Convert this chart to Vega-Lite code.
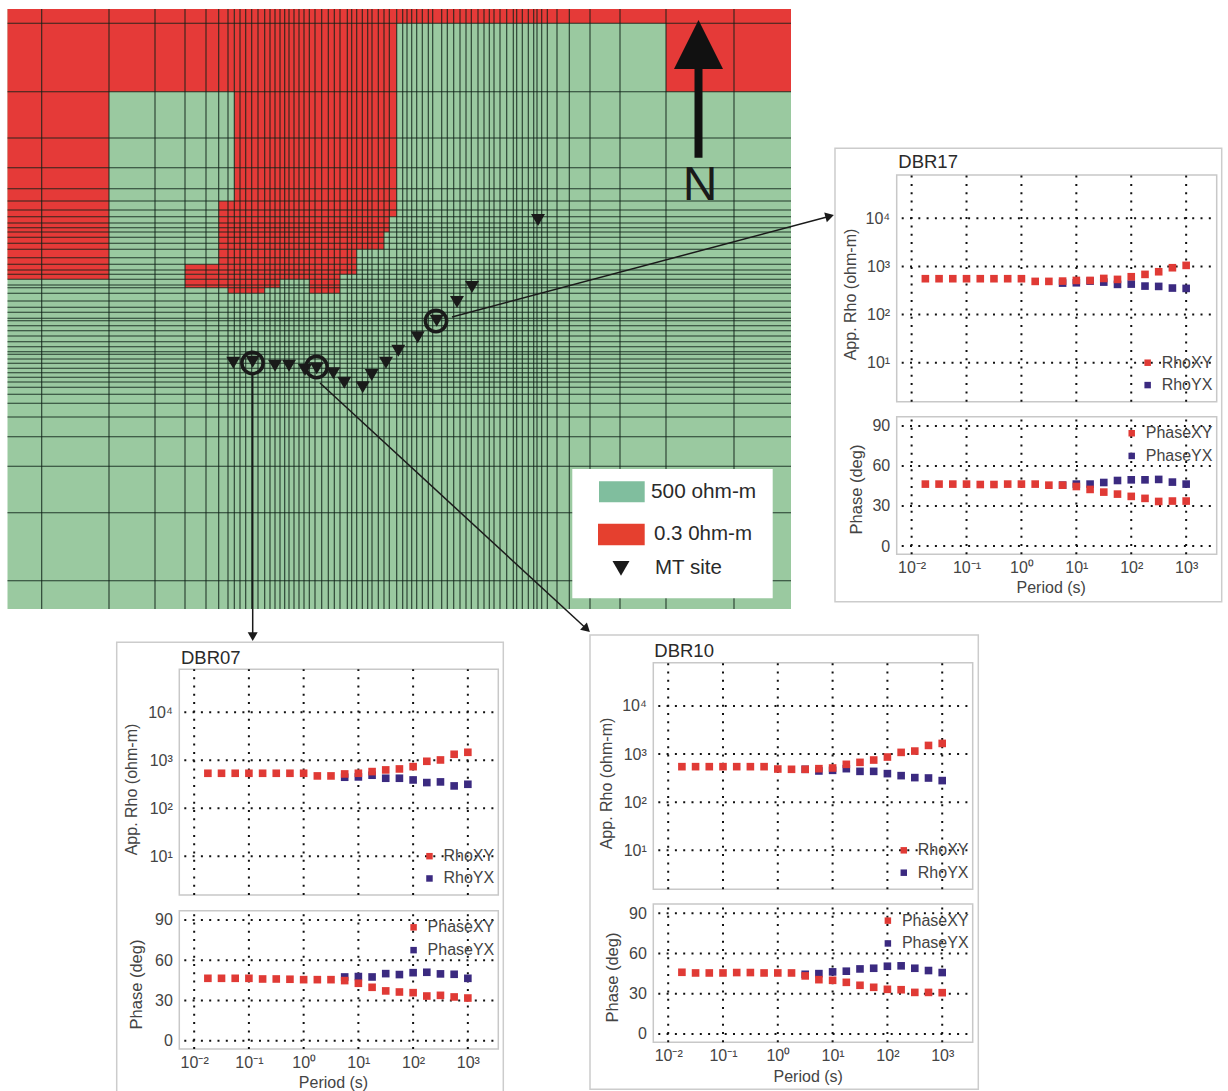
{"$schema":"https://vega.github.io/schema/vega-lite/v6.json","width":1228,"height":1091,"autosize":{"type":"none"},"padding":0,"background":"white",
"config":{"view":{"stroke":null},"font":"Liberation Sans","axis":{"domain":false,"ticks":false,"grid":false,"labelFont":"Liberation Sans","labelFontSize":16,"labelColor":"#444444","labelPadding":7,"labelOverlap":false,"labelFlush":false,"titleFont":"Liberation Sans","titleFontSize":16,"titleFontWeight":"normal","titleColor":"#444444","titleBaseline":"middle"}},
"datasets":{
"cells":[{"x":-0.5,"x2":101,"y":0,"y2":270.3},{"x":101,"x2":226.3,"y":0,"y2":82.7},{"x":226.3,"x2":388.7,"y":0,"y2":192},{"x":388.7,"x2":783,"y":0,"y2":14.3},{"x":658,"x2":783,"y":0,"y2":82.7},{"x":210.7,"x2":388.7,"y":192,"y2":207.7},{"x":210.7,"x2":381.3,"y":207.7,"y2":223},{"x":210.7,"x2":376,"y":223,"y2":240.3},{"x":210.7,"x2":348.7,"y":240.3,"y2":255.3},{"x":177,"x2":348.7,"y":255.3,"y2":265.3},{"x":177,"x2":332,"y":265.3,"y2":270.3},{"x":177,"x2":272,"y":270.3,"y2":278.7},{"x":301.3,"x2":332,"y":270.3,"y2":284.3},{"x":220,"x2":256.7,"y":278.7,"y2":284.3}],
"meshV":[{"x":33.7,"y":0,"y2":600},{"x":101,"y":0,"y2":600},{"x":147,"y":0,"y2":600},{"x":177,"y":0,"y2":600},{"x":198,"y":0,"y2":600},{"x":210.7,"y":0,"y2":600},{"x":220,"y":0,"y2":600},{"x":226.3,"y":0,"y2":600},{"x":232,"y":0,"y2":600},{"x":237.7,"y":0,"y2":600},{"x":243.7,"y":0,"y2":600},{"x":250,"y":0,"y2":600},{"x":256.7,"y":0,"y2":600},{"x":262,"y":0,"y2":600},{"x":267,"y":0,"y2":600},{"x":272,"y":0,"y2":600},{"x":276.7,"y":0,"y2":600},{"x":281,"y":0,"y2":600},{"x":286,"y":0,"y2":600},{"x":291,"y":0,"y2":600},{"x":296,"y":0,"y2":600},{"x":301.3,"y":0,"y2":600},{"x":307,"y":0,"y2":600},{"x":313.7,"y":0,"y2":600},{"x":320.3,"y":0,"y2":600},{"x":326.3,"y":0,"y2":600},{"x":332,"y":0,"y2":600},{"x":339.3,"y":0,"y2":600},{"x":343.7,"y":0,"y2":600},{"x":348.7,"y":0,"y2":600},{"x":354.3,"y":0,"y2":600},{"x":359.7,"y":0,"y2":600},{"x":364,"y":0,"y2":600},{"x":370.3,"y":0,"y2":600},{"x":376,"y":0,"y2":600},{"x":381.3,"y":0,"y2":600},{"x":388.7,"y":0,"y2":600},{"x":394.7,"y":0,"y2":600},{"x":399,"y":0,"y2":600},{"x":403.7,"y":0,"y2":600},{"x":408.7,"y":0,"y2":600},{"x":414.3,"y":0,"y2":600},{"x":420.3,"y":0,"y2":600},{"x":424.7,"y":0,"y2":600},{"x":433.7,"y":0,"y2":600},{"x":439.3,"y":0,"y2":600},{"x":445.7,"y":0,"y2":600},{"x":452,"y":0,"y2":600},{"x":458,"y":0,"y2":600},{"x":463.3,"y":0,"y2":600},{"x":470,"y":0,"y2":600},{"x":476,"y":0,"y2":600},{"x":481.3,"y":0,"y2":600},{"x":486,"y":0,"y2":600},{"x":492,"y":0,"y2":600},{"x":498.7,"y":0,"y2":600},{"x":505.3,"y":0,"y2":600},{"x":508.7,"y":0,"y2":600},{"x":514.3,"y":0,"y2":600},{"x":520.3,"y":0,"y2":600},{"x":525.7,"y":0,"y2":600},{"x":529,"y":0,"y2":600},{"x":533.7,"y":0,"y2":600},{"x":539.3,"y":0,"y2":600},{"x":549,"y":0,"y2":600},{"x":561.3,"y":0,"y2":600},{"x":582,"y":0,"y2":600},{"x":612,"y":0,"y2":600},{"x":658,"y":0,"y2":600},{"x":726,"y":0,"y2":600}],
"meshH":[{"x":-0.5,"x2":783,"y":14.3},{"x":-0.5,"x2":783,"y":82.7},{"x":-0.5,"x2":783,"y":129},{"x":-0.5,"x2":783,"y":158.7},{"x":-0.5,"x2":783,"y":179.7},{"x":-0.5,"x2":783,"y":192},{"x":-0.5,"x2":783,"y":201},{"x":-0.5,"x2":783,"y":207.7},{"x":-0.5,"x2":783,"y":214},{"x":-0.5,"x2":783,"y":218.7},{"x":-0.5,"x2":783,"y":223},{"x":-0.5,"x2":783,"y":228.3},{"x":-0.5,"x2":783,"y":234.3},{"x":-0.5,"x2":783,"y":240.3},{"x":-0.5,"x2":783,"y":248.7},{"x":-0.5,"x2":783,"y":255.3},{"x":-0.5,"x2":783,"y":261},{"x":-0.5,"x2":783,"y":265.3},{"x":-0.5,"x2":783,"y":270.3},{"x":-0.5,"x2":783,"y":276},{"x":-0.5,"x2":783,"y":278.7},{"x":-0.5,"x2":783,"y":284.3},{"x":-0.5,"x2":783,"y":292},{"x":-0.5,"x2":783,"y":298.3},{"x":-0.5,"x2":783,"y":303.3},{"x":-0.5,"x2":783,"y":309.3},{"x":-0.5,"x2":783,"y":311.7},{"x":-0.5,"x2":783,"y":316.7},{"x":-0.5,"x2":783,"y":321.7},{"x":-0.5,"x2":783,"y":327},{"x":-0.5,"x2":783,"y":332.7},{"x":-0.5,"x2":783,"y":337.7},{"x":-0.5,"x2":783,"y":342.7},{"x":-0.5,"x2":783,"y":345.3},{"x":-0.5,"x2":783,"y":350},{"x":-0.5,"x2":783,"y":354.3},{"x":-0.5,"x2":783,"y":359.3},{"x":-0.5,"x2":783,"y":363.7},{"x":-0.5,"x2":783,"y":368.3},{"x":-0.5,"x2":783,"y":373},{"x":-0.5,"x2":783,"y":378.3},{"x":-0.5,"x2":783,"y":385.3},{"x":-0.5,"x2":783,"y":394.3},{"x":-0.5,"x2":783,"y":408},{"x":-0.5,"x2":783,"y":427.7},{"x":-0.5,"x2":783,"y":457.3},{"x":-0.5,"x2":783,"y":503.7},{"x":-0.5,"x2":783,"y":571.7}],
"sites":[{"x":225.3,"y":353.7},{"x":244.7,"y":352.7},{"x":267,"y":356.7},{"x":281,"y":356.7},{"x":297,"y":361},{"x":308.7,"y":359.3},{"x":325.3,"y":364.3},{"x":336.3,"y":373.7},{"x":354.7,"y":378.3},{"x":363.7,"y":366},{"x":378,"y":353.7},{"x":390.3,"y":341.7},{"x":409.7,"y":328.3},{"x":428.7,"y":311.7},{"x":449,"y":293},{"x":464,"y":278},{"x":530,"y":211}],
"picked":[{"site":"DBR07","x":244.5,"y":354},{"site":"DBR10","x":308.5,"y":358},{"site":"DBR17","x":428,"y":312}],
"arrows":[{"x":244.7,"y":366,"x2":244.7,"y2":627.7},{"x":312,"y":374,"x2":578.7,"y2":620},{"x":444,"y":308,"x2":821.7,"y2":207.2}],
"frames":[{"site":"DBR17","x":827,"x2":1213.7,"y":139.3,"y2":592.7},{"site":"DBR07","x":108.7,"x2":495.3,"y":633.3,"y2":1086},{"site":"DBR10","x":582,"x2":970.3,"y":626,"y2":1080.3}],
"titles":[{"label":"DBR17","x":890.3,"y":153.3},{"label":"DBR07","x":173,"y":648.7},{"label":"DBR10","x":646.3,"y":641.7}],
"rhoBox":[{"period":0.00535,"period2":3600,"rho":1.55,"rho2":79000}],
"rhoV":[{"period":0.01,"rho":1.55,"rho2":79000},{"period":0.1,"rho":1.55,"rho2":79000},{"period":1,"rho":1.55,"rho2":79000},{"period":10,"rho":1.55,"rho2":79000},{"period":100,"rho":1.55,"rho2":79000},{"period":1000,"rho":1.55,"rho2":79000}],
"rhoH":[{"period":0.0066,"period2":3200,"rho":10},{"period":0.0066,"period2":3200,"rho":100},{"period":0.0066,"period2":3200,"rho":1000},{"period":0.0066,"period2":3200,"rho":10000}],
"rhoLegend":[{"period":199,"rho":10,"series":"XY","label":"RhoXY"},{"period":199,"rho":3.43,"series":"YX","label":"RhoYX"}],
"phaseBox":[{"period":0.00535,"period2":3600,"phase":-6.2,"phase2":96.9}],
"phaseV":[{"period":0.01,"phase":-6.2,"phase2":96.9},{"period":0.1,"phase":-6.2,"phase2":96.9},{"period":1,"phase":-6.2,"phase2":96.9},{"period":10,"phase":-6.2,"phase2":96.9},{"period":100,"phase":-6.2,"phase2":96.9},{"period":1000,"phase":-6.2,"phase2":96.9}],
"phaseH":[{"period":0.0066,"period2":3200,"phase":0},{"period":0.0066,"period2":3200,"phase":30},{"period":0.0066,"period2":3200,"phase":60},{"period":0.0066,"period2":3200,"phase":90}],
"phaseLegend":[{"period":102,"phase":84.5,"series":"XY","label":"PhaseXY"},{"period":102,"phase":67.5,"series":"YX","label":"PhaseYX"}],
"mt":[
{"site":"DBR17","series":"YX","period":5.62,"rho":450,"phase":45.6},{"site":"DBR17","series":"YX","period":10,"rho":457,"phase":46.4},{"site":"DBR17","series":"YX","period":17.8,"rho":495,"phase":46.4},{"site":"DBR17","series":"YX","period":31.6,"rho":472,"phase":47.6},{"site":"DBR17","series":"YX","period":56.2,"rho":423,"phase":49.1},{"site":"DBR17","series":"YX","period":100,"rho":429,"phase":49.6},{"site":"DBR17","series":"YX","period":178,"rho":390,"phase":49.6},{"site":"DBR17","series":"YX","period":316,"rho":384,"phase":49.9},{"site":"DBR17","series":"YX","period":562,"rho":355,"phase":47.9},{"site":"DBR17","series":"YX","period":1000,"rho":349,"phase":46.4},
{"site":"DBR07","series":"YX","period":5.62,"rho":443,"phase":47.5},{"site":"DBR07","series":"YX","period":10,"rho":450,"phase":47.8},{"site":"DBR07","series":"YX","period":17.8,"rho":488,"phase":47.5},{"site":"DBR07","series":"YX","period":31.6,"rho":422,"phase":50},{"site":"DBR07","series":"YX","period":56.2,"rho":422,"phase":49.3},{"site":"DBR07","series":"YX","period":100,"rho":389,"phase":50.7},{"site":"DBR07","series":"YX","period":178,"rho":343,"phase":51},{"site":"DBR07","series":"YX","period":316,"rho":354,"phase":49.8},{"site":"DBR07","series":"YX","period":562,"rho":292,"phase":49.5},{"site":"DBR07","series":"YX","period":1000,"rho":316,"phase":46.5},
{"site":"DBR10","series":"YX","period":3.16,"rho":482,"phase":44.5},{"site":"DBR10","series":"YX","period":5.62,"rho":445,"phase":45},{"site":"DBR10","series":"YX","period":10,"rho":459,"phase":46.3},{"site":"DBR10","series":"YX","period":17.8,"rho":497,"phase":46.8},{"site":"DBR10","series":"YX","period":31.6,"rho":437,"phase":48.5},{"site":"DBR10","series":"YX","period":56.2,"rho":437,"phase":49},{"site":"DBR10","series":"YX","period":100,"rho":392,"phase":50.5},{"site":"DBR10","series":"YX","period":178,"rho":356,"phase":50.8},{"site":"DBR10","series":"YX","period":316,"rho":324,"phase":49},{"site":"DBR10","series":"YX","period":562,"rho":318,"phase":47.3},{"site":"DBR10","series":"YX","period":1000,"rho":281,"phase":45.8},
{"site":"DBR17","series":"XY","period":0.0178,"rho":555,"phase":46.4},{"site":"DBR17","series":"XY","period":0.0316,"rho":555,"phase":46.4},{"site":"DBR17","series":"XY","period":0.0562,"rho":555,"phase":46.4},{"site":"DBR17","series":"XY","period":0.1,"rho":555,"phase":46.4},{"site":"DBR17","series":"XY","period":0.178,"rho":555,"phase":46.1},{"site":"DBR17","series":"XY","period":0.316,"rho":555,"phase":46.1},{"site":"DBR17","series":"XY","period":0.562,"rho":555,"phase":46.4},{"site":"DBR17","series":"XY","period":1,"rho":555,"phase":46.4},{"site":"DBR17","series":"XY","period":1.78,"rho":488,"phase":46.4},{"site":"DBR17","series":"XY","period":3.16,"rho":488,"phase":45.6},{"site":"DBR17","series":"XY","period":5.62,"rho":495,"phase":45.6},{"site":"DBR17","series":"XY","period":10,"rho":511,"phase":44.6},{"site":"DBR17","series":"XY","period":17.8,"rho":511,"phase":42.4},{"site":"DBR17","series":"XY","period":31.6,"rho":562,"phase":40.4},{"site":"DBR17","series":"XY","period":56.2,"rho":537,"phase":38.9},{"site":"DBR17","series":"XY","period":100,"rho":610,"phase":37.2},{"site":"DBR17","series":"XY","period":178,"rho":682,"phase":35.7},{"site":"DBR17","series":"XY","period":316,"rho":774,"phase":33.4},{"site":"DBR17","series":"XY","period":562,"rho":938,"phase":33.7},{"site":"DBR17","series":"XY","period":1000,"rho":1049,"phase":33.7},
{"site":"DBR07","series":"XY","period":0.0178,"rho":536,"phase":46.5},{"site":"DBR07","series":"XY","period":0.0316,"rho":536,"phase":46.5},{"site":"DBR07","series":"XY","period":0.0562,"rho":536,"phase":46.5},{"site":"DBR07","series":"XY","period":0.1,"rho":536,"phase":46.5},{"site":"DBR07","series":"XY","period":0.178,"rho":536,"phase":46},{"site":"DBR07","series":"XY","period":0.316,"rho":536,"phase":46},{"site":"DBR07","series":"XY","period":0.562,"rho":536,"phase":45.8},{"site":"DBR07","series":"XY","period":1,"rho":536,"phase":45.5},{"site":"DBR07","series":"XY","period":1.78,"rho":472,"phase":45.5},{"site":"DBR07","series":"XY","period":3.16,"rho":472,"phase":45.5},{"site":"DBR07","series":"XY","period":5.62,"rho":519,"phase":44.8},{"site":"DBR07","series":"XY","period":10,"rho":536,"phase":42.8},{"site":"DBR07","series":"XY","period":17.8,"rho":581,"phase":39.8},{"site":"DBR07","series":"XY","period":31.6,"rho":630,"phase":37.1},{"site":"DBR07","series":"XY","period":56.2,"rho":660,"phase":36.3},{"site":"DBR07","series":"XY","period":100,"rho":737,"phase":35.8},{"site":"DBR07","series":"XY","period":178,"rho":953,"phase":33.3},{"site":"DBR07","series":"XY","period":316,"rho":1016,"phase":33.8},{"site":"DBR07","series":"XY","period":562,"rho":1334,"phase":32.6},{"site":"DBR07","series":"XY","period":1000,"rho":1468,"phase":31.8},
{"site":"DBR10","series":"XY","period":0.0178,"rho":547,"phase":46},{"site":"DBR10","series":"XY","period":0.0316,"rho":547,"phase":45.5},{"site":"DBR10","series":"XY","period":0.0562,"rho":547,"phase":45.5},{"site":"DBR10","series":"XY","period":0.1,"rho":547,"phase":45.5},{"site":"DBR10","series":"XY","period":0.178,"rho":547,"phase":45.8},{"site":"DBR10","series":"XY","period":0.316,"rho":547,"phase":45.8},{"site":"DBR10","series":"XY","period":0.562,"rho":547,"phase":45.5},{"site":"DBR10","series":"XY","period":1,"rho":489,"phase":45.5},{"site":"DBR10","series":"XY","period":1.78,"rho":482,"phase":45.5},{"site":"DBR10","series":"XY","period":3.16,"rho":482,"phase":43.3},{"site":"DBR10","series":"XY","period":5.62,"rho":497,"phase":40.5},{"site":"DBR10","series":"XY","period":10,"rho":513,"phase":40},{"site":"DBR10","series":"XY","period":17.8,"rho":611,"phase":38.5},{"site":"DBR10","series":"XY","period":31.6,"rho":672,"phase":36.3},{"site":"DBR10","series":"XY","period":56.2,"rho":751,"phase":34.8},{"site":"DBR10","series":"XY","period":100,"rho":867,"phase":33.3},{"site":"DBR10","series":"XY","period":178,"rho":1083,"phase":33},{"site":"DBR10","series":"XY","period":316,"rho":1153,"phase":31},{"site":"DBR10","series":"XY","period":562,"rho":1510,"phase":31},{"site":"DBR10","series":"XY","period":1000,"rho":1663,"phase":30.8}
]},
"resolve":{"scale":{"x":"independent","y":"independent"},"axis":{"x":"independent","y":"independent"}},
"layer":[
{"encoding":{"x":{"field":"x","type":"quantitative","scale":{"domain":[0,783],"range":[8,791]},"axis":null},"y":{"field":"y","type":"quantitative","scale":{"domain":[0,600],"range":[9,609]},"axis":null}},
"layer":[
{"data":{"values":[{"x":-0.5,"x2":783,"y":0,"y2":600}]},"mark":{"type":"rect","fill":"#9AC9A0"},"encoding":{"x2":{"field":"x2"},"y2":{"field":"y2"}}},
{"data":{"name":"cells"},"mark":{"type":"rect","fill":"#E53A38"},"encoding":{"x2":{"field":"x2"},"y2":{"field":"y2"}}},
{"data":{"name":"meshV"},"mark":{"type":"rule","stroke":"#0f2218","strokeWidth":1.1,"strokeOpacity":0.85},"encoding":{"y2":{"field":"y2"}}},
{"data":{"name":"meshH"},"mark":{"type":"rule","stroke":"#0f2218","strokeWidth":1.1,"strokeOpacity":0.85},"encoding":{"x2":{"field":"x2"}}},
{"data":{"values":[{"x":564.3,"x2":764.7,"y":460,"y2":589.3}]},"mark":{"type":"rect","fill":"white"},"encoding":{"x2":{"field":"x2"},"y2":{"field":"y2"}}},
{"data":{"values":[{"x":591,"x2":636.7,"y":472.3,"y2":493.3}]},"mark":{"type":"rect","fill":"#80BE9E"},"encoding":{"x2":{"field":"x2"},"y2":{"field":"y2"}}},
{"data":{"values":[{"x":590,"x2":636.7,"y":514.7,"y2":536.3}]},"mark":{"type":"rect","fill":"#E5402F"},"encoding":{"x2":{"field":"x2"},"y2":{"field":"y2"}}},
{"data":{"values":[{"label":"500 ohm-m","x":643,"y":483.3}]},"mark":{"type":"text","align":"left","baseline":"middle","fontSize":20.8,"fill":"#2a2a2a"},"encoding":{"text":{"field":"label"}}},
{"data":{"values":[{"label":"0.3 0hm-m","x":646,"y":525}]},"mark":{"type":"text","align":"left","baseline":"middle","fontSize":20.5,"fill":"#2a2a2a"},"encoding":{"text":{"field":"label"}}},
{"data":{"values":[{"label":"MT site","x":647,"y":559}]},"mark":{"type":"text","align":"left","baseline":"middle","fontSize":20.5,"fill":"#2a2a2a"},"encoding":{"text":{"field":"label"}}},
{"data":{"values":[{"x":613,"y":559.3}]},"mark":{"type":"point","shape":"triangle-down","filled":true,"size":289,"color":"#1a1a1a","opacity":1}},
{"data":{"name":"sites"},"mark":{"type":"point","shape":"triangle-down","filled":true,"size":196,"color":"#1a1a1a","opacity":1}},
{"data":{"name":"picked"},"mark":{"type":"point","shape":"circle","filled":false,"size":452,"strokeWidth":3.5,"color":"#1a1a1a","opacity":1}},
{"data":{"name":"frames"},"mark":{"type":"rect","fill":"white","stroke":"#cccccc","strokeWidth":1.5},"encoding":{"x2":{"field":"x2"},"y2":{"field":"y2"}}},
{"data":{"name":"arrows"},"mark":{"type":"rule","stroke":"#1a1a1a","strokeWidth":1.5},"encoding":{"x2":{"field":"x2"},"y2":{"field":"y2"}}},
{"data":{"values":[{"x":244.7,"y":627.7}]},"mark":{"type":"point","shape":"triangle-down","filled":true,"size":100,"color":"#1a1a1a","opacity":1}},
{"data":{"values":[{"x":578.7,"y":620}]},"mark":{"type":"point","shape":"triangle-up","angle":132.7,"filled":true,"size":100,"color":"#1a1a1a","opacity":1}},
{"data":{"values":[{"x":821.7,"y":207.2}]},"mark":{"type":"point","shape":"triangle-up","angle":75,"filled":true,"size":100,"color":"#1a1a1a","opacity":1}},
{"data":{"values":[{"x":690.5,"y":60,"y2":148.7}]},"mark":{"type":"rule","stroke":"#111111","strokeWidth":8},"encoding":{"y2":{"field":"y2"}}},
{"data":{"values":[{"x":690.5,"y":35.5}]},"mark":{"type":"point","shape":"M0,-1L1,1L-1,1Z","filled":true,"size":2401,"color":"#111111","opacity":1}},
{"data":{"values":[{"label":"N","x":692,"y":176.5}]},"mark":{"type":"text","align":"center","baseline":"middle","fontSize":48,"fill":"#1a1a1a"},"encoding":{"text":{"field":"label"}}},
{"data":{"name":"titles"},"mark":{"type":"text","align":"left","baseline":"middle","fontSize":18.5,"fill":"#2a2a2a"},"encoding":{"text":{"field":"label"}}}
]},

{"encoding":{"x":{"field":"period","type":"quantitative","scale":{"type":"log","domain":[0.00535,3600],"range":[896.7,1216.7]},"axis":null},"y":{"field":"rho","type":"quantitative","scale":{"type":"log","domain":[1.55,79000],"range":[401.7,175]},"axis":{"zindex":1,"orient":"left","offset":-896.7,"values":[10,100,1000,10000],"labelExpr":"datum.value==10?'10¹':datum.value==100?'10²':datum.value==1000?'10³':'10⁴'","title":"App. Rho (ohm-m)","titleX":-46,"titleY":294}}},
"layer":[
{"data":{"name":"rhoBox"},"mark":{"type":"rect","fill":"white","stroke":"#c8c8c8","strokeWidth":1.5},"encoding":{"x2":{"field":"period2"},"y2":{"field":"rho2"}}},
{"data":{"name":"rhoV"},"mark":{"type":"rule","stroke":"#111111","strokeWidth":2,"strokeDash":[2,6.3]},"encoding":{"y2":{"field":"rho2"}}},
{"data":{"name":"rhoH"},"mark":{"type":"rule","stroke":"#111111","strokeWidth":2,"strokeDash":[2,6.3]},"encoding":{"x2":{"field":"period2"}}},
{"data":{"name":"mt"},"transform":[{"filter":"datum.site=='DBR17'"}],"mark":{"type":"square","size":58,"opacity":1},"encoding":{"color":{"field":"series","type":"nominal","scale":{"domain":["XY","YX"],"range":["#E03A35","#3B2A80"]},"legend":null}}},
{"data":{"name":"rhoLegend"},"mark":{"type":"square","size":42,"opacity":1},"encoding":{"color":{"field":"series","type":"nominal","scale":{"domain":["XY","YX"],"range":["#E03A35","#3B2A80"]},"legend":null}}},
{"data":{"name":"rhoLegend"},"mark":{"type":"text","align":"left","baseline":"middle","dx":14,"fontSize":16,"fill":"#444444"},"encoding":{"text":{"field":"label"}}}
]},
{"encoding":{"x":{"field":"period","type":"quantitative","scale":{"type":"log","domain":[0.00535,3600],"range":[896.7,1216.7]},"axis":{"zindex":1,"labelPadding":5,"orient":"bottom","offset":-536.7,"values":[0.01,0.1,1,10,100,1000],"labelExpr":"datum.value==0.01?'10⁻²':datum.value==0.1?'10⁻¹':datum.value==1?'10⁰':datum.value==10?'10¹':datum.value==100?'10²':'10³'","title":"Period (s)","titleX":1050.7,"titleY":33.4}},"y":{"field":"phase","type":"quantitative","scale":{"domain":[-6.2,96.9],"range":[554.3,416.7],"nice":false,"zero":false},"axis":{"zindex":1,"titleFontSize":16.5,"orient":"left","offset":-896.7,"values":[0,30,60,90],"title":"Phase (deg)","titleX":-40.7,"titleY":489}}},
"layer":[
{"data":{"name":"phaseBox"},"mark":{"type":"rect","fill":"white","stroke":"#c8c8c8","strokeWidth":1.5},"encoding":{"x2":{"field":"period2"},"y2":{"field":"phase2"}}},
{"data":{"name":"phaseV"},"mark":{"type":"rule","stroke":"#111111","strokeWidth":2,"strokeDash":[2,6.3]},"encoding":{"y2":{"field":"phase2"}}},
{"data":{"name":"phaseH"},"mark":{"type":"rule","stroke":"#111111","strokeWidth":2,"strokeDash":[2,6.3]},"encoding":{"x2":{"field":"period2"}}},
{"data":{"name":"mt"},"transform":[{"filter":"datum.site=='DBR17'"}],"mark":{"type":"square","size":58,"opacity":1},"encoding":{"color":{"field":"series","type":"nominal","scale":{"domain":["XY","YX"],"range":["#E03A35","#3B2A80"]},"legend":null}}},
{"data":{"name":"phaseLegend"},"mark":{"type":"square","size":42,"opacity":1},"encoding":{"color":{"field":"series","type":"nominal","scale":{"domain":["XY","YX"],"range":["#E03A35","#3B2A80"]},"legend":null}}},
{"data":{"name":"phaseLegend"},"mark":{"type":"text","align":"left","baseline":"middle","dx":14,"fontSize":16,"fill":"#444444"},"encoding":{"text":{"field":"label"}}}
]},

{"encoding":{"x":{"field":"period","type":"quantitative","scale":{"type":"log","domain":[0.00535,3600],"range":[179.3,498.3]},"axis":null},"y":{"field":"rho","type":"quantitative","scale":{"type":"log","domain":[1.55,79000],"range":[895,669.3]},"axis":{"zindex":1,"orient":"left","offset":-179.3,"values":[10,100,1000,10000],"labelExpr":"datum.value==10?'10¹':datum.value==100?'10²':datum.value==1000?'10³':'10⁴'","title":"App. Rho (ohm-m)","titleX":-47.6,"titleY":789}}},
"layer":[
{"data":{"name":"rhoBox"},"mark":{"type":"rect","fill":"white","stroke":"#c8c8c8","strokeWidth":1.5},"encoding":{"x2":{"field":"period2"},"y2":{"field":"rho2"}}},
{"data":{"name":"rhoV"},"mark":{"type":"rule","stroke":"#111111","strokeWidth":2,"strokeDash":[2,6.3]},"encoding":{"y2":{"field":"rho2"}}},
{"data":{"name":"rhoH"},"mark":{"type":"rule","stroke":"#111111","strokeWidth":2,"strokeDash":[2,6.3]},"encoding":{"x2":{"field":"period2"}}},
{"data":{"name":"mt"},"transform":[{"filter":"datum.site=='DBR07'"}],"mark":{"type":"square","size":58,"opacity":1},"encoding":{"color":{"field":"series","type":"nominal","scale":{"domain":["XY","YX"],"range":["#E03A35","#3B2A80"]},"legend":null}}},
{"data":{"name":"rhoLegend"},"mark":{"type":"square","size":42,"opacity":1},"encoding":{"color":{"field":"series","type":"nominal","scale":{"domain":["XY","YX"],"range":["#E03A35","#3B2A80"]},"legend":null}}},
{"data":{"name":"rhoLegend"},"mark":{"type":"text","align":"left","baseline":"middle","dx":14,"fontSize":16,"fill":"#444444"},"encoding":{"text":{"field":"label"}}}
]},
{"encoding":{"x":{"field":"period","type":"quantitative","scale":{"type":"log","domain":[0.00535,3600],"range":[179.3,498.3]},"axis":{"zindex":1,"labelPadding":5,"orient":"bottom","offset":-42,"values":[0.01,0.1,1,10,100,1000],"labelExpr":"datum.value==0.01?'10⁻²':datum.value==0.1?'10⁻¹':datum.value==1?'10⁰':datum.value==10?'10¹':datum.value==100?'10²':'10³'","title":"Period (s)","titleX":333,"titleY":33}},"y":{"field":"phase","type":"quantitative","scale":{"domain":[-6.2,96.9],"range":[1049,910.7],"nice":false,"zero":false},"axis":{"zindex":1,"titleFontSize":16.5,"orient":"left","offset":-179.3,"values":[0,30,60,90],"title":"Phase (deg)","titleX":-42.6,"titleY":984}}},
"layer":[
{"data":{"name":"phaseBox"},"mark":{"type":"rect","fill":"white","stroke":"#c8c8c8","strokeWidth":1.5},"encoding":{"x2":{"field":"period2"},"y2":{"field":"phase2"}}},
{"data":{"name":"phaseV"},"mark":{"type":"rule","stroke":"#111111","strokeWidth":2,"strokeDash":[2,6.3]},"encoding":{"y2":{"field":"phase2"}}},
{"data":{"name":"phaseH"},"mark":{"type":"rule","stroke":"#111111","strokeWidth":2,"strokeDash":[2,6.3]},"encoding":{"x2":{"field":"period2"}}},
{"data":{"name":"mt"},"transform":[{"filter":"datum.site=='DBR07'"}],"mark":{"type":"square","size":58,"opacity":1},"encoding":{"color":{"field":"series","type":"nominal","scale":{"domain":["XY","YX"],"range":["#E03A35","#3B2A80"]},"legend":null}}},
{"data":{"name":"phaseLegend"},"mark":{"type":"square","size":42,"opacity":1},"encoding":{"color":{"field":"series","type":"nominal","scale":{"domain":["XY","YX"],"range":["#E03A35","#3B2A80"]},"legend":null}}},
{"data":{"name":"phaseLegend"},"mark":{"type":"text","align":"left","baseline":"middle","dx":14,"fontSize":16,"fill":"#444444"},"encoding":{"text":{"field":"label"}}}
]},

{"encoding":{"x":{"field":"period","type":"quantitative","scale":{"type":"log","domain":[0.00535,3600],"range":[653.3,972.7]},"axis":null},"y":{"field":"rho","type":"quantitative","scale":{"type":"log","domain":[1.55,79000],"range":[889.3,662.7]},"axis":{"zindex":1,"orient":"left","offset":-653.3,"values":[10,100,1000,10000],"labelExpr":"datum.value==10?'10¹':datum.value==100?'10²':datum.value==1000?'10³':'10⁴'","title":"App. Rho (ohm-m)","titleX":-46.6,"titleY":783}}},
"layer":[
{"data":{"name":"rhoBox"},"mark":{"type":"rect","fill":"white","stroke":"#c8c8c8","strokeWidth":1.5},"encoding":{"x2":{"field":"period2"},"y2":{"field":"rho2"}}},
{"data":{"name":"rhoV"},"mark":{"type":"rule","stroke":"#111111","strokeWidth":2,"strokeDash":[2,6.3]},"encoding":{"y2":{"field":"rho2"}}},
{"data":{"name":"rhoH"},"mark":{"type":"rule","stroke":"#111111","strokeWidth":2,"strokeDash":[2,6.3]},"encoding":{"x2":{"field":"period2"}}},
{"data":{"name":"mt"},"transform":[{"filter":"datum.site=='DBR10'"}],"mark":{"type":"square","size":58,"opacity":1},"encoding":{"color":{"field":"series","type":"nominal","scale":{"domain":["XY","YX"],"range":["#E03A35","#3B2A80"]},"legend":null}}},
{"data":{"name":"rhoLegend"},"mark":{"type":"square","size":42,"opacity":1},"encoding":{"color":{"field":"series","type":"nominal","scale":{"domain":["XY","YX"],"range":["#E03A35","#3B2A80"]},"legend":null}}},
{"data":{"name":"rhoLegend"},"mark":{"type":"text","align":"left","baseline":"middle","dx":14,"fontSize":16,"fill":"#444444"},"encoding":{"text":{"field":"label"}}}
]},
{"encoding":{"x":{"field":"period","type":"quantitative","scale":{"type":"log","domain":[0.00535,3600],"range":[653.3,972.7]},"axis":{"zindex":1,"labelPadding":5,"orient":"bottom","offset":-48.7,"values":[0.01,0.1,1,10,100,1000],"labelExpr":"datum.value==0.01?'10⁻²':datum.value==0.1?'10⁻¹':datum.value==1?'10⁰':datum.value==10?'10¹':datum.value==100?'10²':'10³'","title":"Period (s)","titleX":807.7,"titleY":33.7}},"y":{"field":"phase","type":"quantitative","scale":{"domain":[-6.2,96.9],"range":[1042.3,904],"nice":false,"zero":false},"axis":{"zindex":1,"titleFontSize":16.5,"orient":"left","offset":-653.3,"values":[0,30,60,90],"title":"Phase (deg)","titleX":-41.3,"titleY":977}}},
"layer":[
{"data":{"name":"phaseBox"},"mark":{"type":"rect","fill":"white","stroke":"#c8c8c8","strokeWidth":1.5},"encoding":{"x2":{"field":"period2"},"y2":{"field":"phase2"}}},
{"data":{"name":"phaseV"},"mark":{"type":"rule","stroke":"#111111","strokeWidth":2,"strokeDash":[2,6.3]},"encoding":{"y2":{"field":"phase2"}}},
{"data":{"name":"phaseH"},"mark":{"type":"rule","stroke":"#111111","strokeWidth":2,"strokeDash":[2,6.3]},"encoding":{"x2":{"field":"period2"}}},
{"data":{"name":"mt"},"transform":[{"filter":"datum.site=='DBR10'"}],"mark":{"type":"square","size":58,"opacity":1},"encoding":{"color":{"field":"series","type":"nominal","scale":{"domain":["XY","YX"],"range":["#E03A35","#3B2A80"]},"legend":null}}},
{"data":{"name":"phaseLegend"},"mark":{"type":"square","size":42,"opacity":1},"encoding":{"color":{"field":"series","type":"nominal","scale":{"domain":["XY","YX"],"range":["#E03A35","#3B2A80"]},"legend":null}}},
{"data":{"name":"phaseLegend"},"mark":{"type":"text","align":"left","baseline":"middle","dx":14,"fontSize":16,"fill":"#444444"},"encoding":{"text":{"field":"label"}}}
]}
]}
